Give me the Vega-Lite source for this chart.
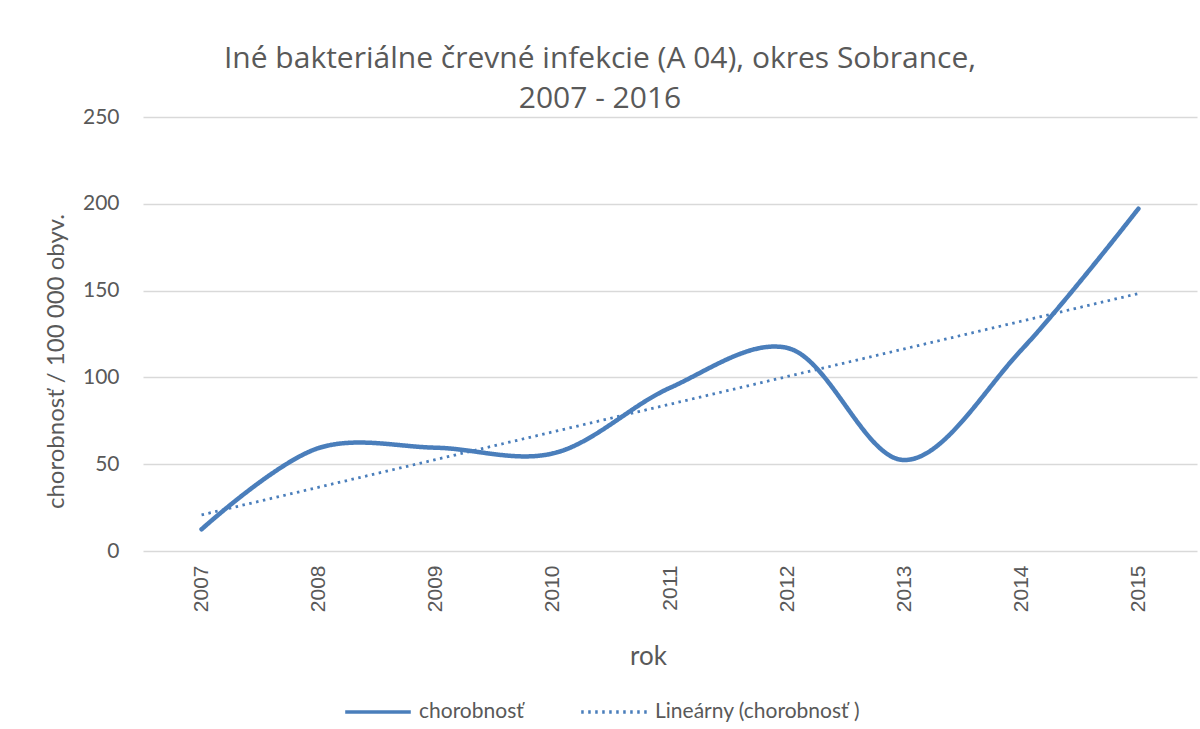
{
  "$schema": "https://vega.github.io/schema/vega-lite/v6.json",
  "width": 1054,
  "height": 434,
  "autosize": {"type": "none"},
  "padding": {"left": 143, "top": 117, "right": 3, "bottom": 178},
  "background": "white",
  "title": {
    "text": ["Iné bakteriálne črevné infekcie (A 04), okres Sobrance,", "2007 - 2016"],
    "font": "Open Sans",
    "fontWeight": "normal",
    "fontSize": 30,
    "color": "#595959",
    "lineHeight": 40,
    "anchor": "middle",
    "dx": -70,
    "dy": 14,
    "offset": 6
  },
  "datasets": {
    "chorobnost": [
      {"rok": "2007", "hodnota": 12.5},
      {"rok": "2008", "hodnota": 59.3},
      {"rok": "2009", "hodnota": 59.5},
      {"rok": "2010", "hodnota": 56.2},
      {"rok": "2011", "hodnota": 94},
      {"rok": "2012", "hodnota": 117},
      {"rok": "2013", "hodnota": 52.4},
      {"rok": "2014", "hodnota": 115.8},
      {"rok": "2015", "hodnota": 197.2}
    ],
    "trend": [
      {"rok": "2007", "hodnota": 20.8},
      {"rok": "2015", "hodnota": 148.3}
    ]
  },
  "encoding": {
    "x": {
      "field": "rok",
      "type": "ordinal",
      "scale": {"type": "point", "padding": 0.5, "domain": ["2007","2008","2009","2010","2011","2012","2013","2014","2015"]},
      "title": "rok",
      "axis": {
        "labelAngle": -90,
        "labelAlign": "right",
        "labelBaseline": "middle",
        "labelFont": "Liberation Sans",
        "labelFontSize": 21,
        "labelColor": "#595959",
        "labelPadding": 14,
        "ticks": false,
        "domain": false,
        "grid": false,
        "titleFont": "Lato",
        "titleFontSize": 26,
        "titleFontWeight": "normal",
        "titleColor": "#595959",
        "titlePadding": 32,
        "titleX": 505
      }
    },
    "y": {
      "field": "hodnota",
      "type": "quantitative",
      "scale": {"domain": [0, 250], "nice": false},
      "title": "chorobnosť / 100 000 obyv.",
      "axis": {
        "values": [0, 50, 100, 150, 200, 250],
        "labelFont": "Lato",
        "labelFontSize": 21,
        "labelColor": "#595959",
        "labelPadding": 24,
        "ticks": false,
        "domain": false,
        "gridColor": "#d9d9d9",
        "gridWidth": 1.3,
        "titleFont": "Lato",
        "titleFontSize": 24,
        "titleFontWeight": "normal",
        "titleColor": "#595959",
        "titlePadding": 14,
        "titleY": 244
      }
    }
  },
  "layer": [
    {
      "data": {"name": "chorobnost"},
      "mark": {"type": "line", "interpolate": "catmull-rom", "color": "#4A7EBB", "strokeWidth": 4.5, "strokeCap": "round"},
      "encoding": {
        "strokeDash": {
          "datum": "chorobnosť",
          "scale": {"domain": ["chorobnosť", "Lineárny (chorobnosť )"], "range": [[1, 0], [2.5, 4.5]]},
          "legend": {
            "title": null,
            "orient": "none",
            "direction": "horizontal",
            "legendX": 200,
            "legendY": 560,
            "symbolType": "stroke",
            "symbolSize": 4300,
            "symbolStrokeColor": "#4A7EBB",
            "symbolStrokeWidth": 3.5,
            "labelFont": "Lato",
            "labelFontSize": 21,
            "labelColor": "#595959",
            "labelOffset": 6,
            "labelLimit": 0,
            "columnPadding": 50
          }
        }
      }
    },
    {
      "data": {"name": "trend"},
      "mark": {"type": "line", "color": "#4A7EBB", "strokeWidth": 2.8, "strokeCap": "butt"},
      "encoding": {
        "strokeDash": {"datum": "Lineárny (chorobnosť )"}
      }
    }
  ],
  "config": {"view": {"stroke": null}}
}
